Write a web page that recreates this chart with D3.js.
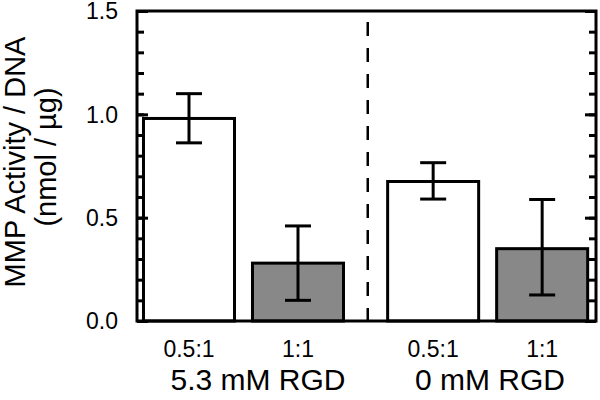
<!DOCTYPE html>
<html>
<head>
<meta charset="utf-8">
<script src="https://cdn.jsdelivr.net/npm/d3@7"></script>
<style>
  body { margin: 0; background: #fff; }
  svg { display: block; font-family: "Liberation Sans", Arial, sans-serif; }
</style>
</head>
<body>
<svg id="svg"></svg>
<script>
  var width = 600,
      height = 400;

  // data
  var groups = ["5.3 mM RGD", "0 mM RGD"];
  var ratios = ["0.5:1", "1:1"];
  var means = [0.98, 0.28, 0.675, 0.35];
  var errHigh = [1.10, 0.46, 0.766, 0.588];
  var errLow = [0.862, 0.10, 0.59, 0.126];
  var fills = ["#ffffff", "#888888", "#ffffff", "#888888"];
  var yTicks = [0, 0.5, 1.0, 1.5];

  var plotL = 137, plotR = 596, plotT = 11, plotB = 321;

  // bar slots: the second group is pushed right by a small gap
  var groupGap = 0.24;
  var bars = [];
  groups.forEach(function(g, gi) {
    ratios.forEach(function(r, ri) {
      var i = gi * ratios.length + ri;
      bars.push({group: g, ratio: r, slot: i + gi * groupGap,
                 mean: means[i], hi: errHigh[i], lo: errLow[i], fill: fills[i]});
    });
  });

  var x = d3.scaleLinear().domain([-0.477, 3.734]).range([plotL, plotR]);
  var barW = 0.835;
  var y = d3.scaleLinear().domain([0, 1.5]).range([plotB, plotT]);

  var svg = d3.select("#svg").attr("width", width).attr("height", height);

  // bars
  svg.selectAll("rect.bar").data(bars)
    .enter().append("rect")
      .attr("class", "bar")
      .attr("x", function(d) { return x(d.slot - barW / 2); })
      .attr("width", function(d) { return x(barW) - x(0); })
      .attr("y", function(d) { return y(d.mean); })
      .attr("height", function(d) { return y(0) - y(d.mean); })
      .attr("fill", function(d) { return d.fill; })
      .attr("stroke", "#000")
      .attr("stroke-width", 3);

  // error bars
  var capW = 13;
  var eb = svg.selectAll("g.err").data(bars).enter().append("g").attr("class", "err")
    .attr("stroke", "#000").attr("stroke-width", 3);
  eb.append("line")
    .attr("x1", function(d) { return x(d.slot); })
    .attr("x2", function(d) { return x(d.slot); })
    .attr("y1", function(d) { return y(d.hi); })
    .attr("y2", function(d) { return y(d.lo); });
  eb.append("line")
    .attr("x1", function(d) { return x(d.slot) - capW; })
    .attr("x2", function(d) { return x(d.slot) + capW; })
    .attr("y1", function(d) { return y(d.hi); })
    .attr("y2", function(d) { return y(d.hi); });
  eb.append("line")
    .attr("x1", function(d) { return x(d.slot) - capW; })
    .attr("x2", function(d) { return x(d.slot) + capW; })
    .attr("y1", function(d) { return y(d.lo); })
    .attr("y2", function(d) { return y(d.lo); });

  // dashed divider between groups
  var divX = x(1.64);
  svg.append("line")
    .attr("x1", divX).attr("x2", divX)
    .attr("y1", 22).attr("y2", plotB)
    .attr("stroke", "#000").attr("stroke-width", 2.5)
    .attr("stroke-dasharray", "14,12");

  // inward ticks on left and right (minor every 0.1)
  var minor = d3.range(0, 1.5001, 0.1);
  function tickSide(axis, xpos) {
    var g = svg.append("g").attr("transform", "translate(" + xpos + ",0)").call(axis);
    g.select(".domain").remove();
    g.selectAll("line").attr("stroke-width", 3);
  }
  tickSide(d3.axisRight(y).tickValues(minor).tickSize(7).tickFormat(""), plotL);
  tickSide(d3.axisLeft(y).tickValues(minor).tickSize(7).tickFormat(""), plotR);
  tickSide(d3.axisRight(y).tickValues(yTicks).tickSize(11).tickFormat(""), plotL);
  tickSide(d3.axisLeft(y).tickValues(yTicks).tickSize(11).tickFormat(""), plotR);

  // y tick labels
  svg.selectAll("text.ytick").data(yTicks).enter().append("text")
    .attr("class", "ytick")
    .attr("x", 118)
    .attr("y", function(d) { return y(d); })
    .attr("dy", "0.36em")
    .attr("text-anchor", "end")
    .attr("font-size", 23)
    .text(function(d) { return d3.format(".1f")(d); });

  // frame
  svg.append("rect")
    .attr("x", plotL).attr("y", plotT)
    .attr("width", plotR - plotL).attr("height", plotB - plotT)
    .attr("fill", "none").attr("stroke", "#000").attr("stroke-width", 3);

  // x labels
  svg.selectAll("text.xlab").data(bars).enter().append("text")
    .attr("class", "xlab")
    .attr("x", function(d) { return x(d.slot); })
    .attr("y", 357)
    .attr("text-anchor", "middle")
    .attr("font-size", 23)
    .text(function(d) { return d.ratio; });

  svg.selectAll("text.glab").data(groups).enter().append("text")
    .attr("class", "glab")
    .attr("x", function(d, i) { return i === 0 ? 258 : 490; })
    .attr("y", 390)
    .attr("text-anchor", "middle")
    .attr("font-size", 30)
    .text(function(d) { return d; });

  // y title
  var yt = svg.append("text")
    .attr("transform", "translate(25,162) rotate(-90)")
    .attr("text-anchor", "middle")
    .attr("font-size", 29);
  yt.append("tspan").attr("x", 0).attr("y", 0).text("MMP Activity / DNA");
  yt.append("tspan").attr("x", 5).attr("y", 31).text("(nmol / \u00b5g)");
</script>
</body>
</html>
